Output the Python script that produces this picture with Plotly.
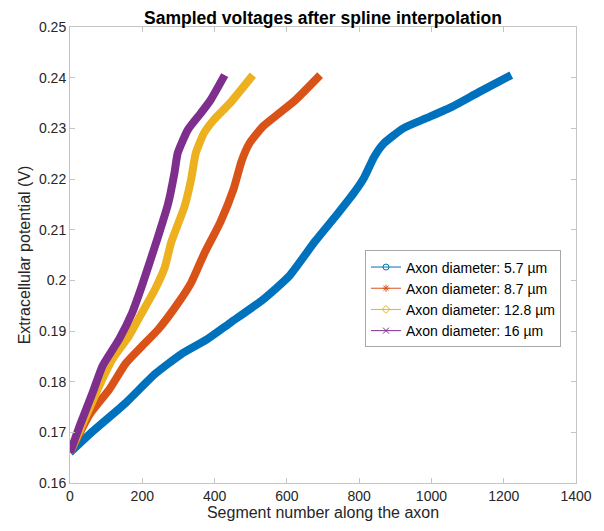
import plotly.graph_objects as go

# Sampled extracellular potential along the axon, one series per diameter
labels = ["Axon diameter: 5.7 µm", "Axon diameter: 8.7 µm",
          "Axon diameter: 12.8 µm", "Axon diameter: 16 µm"]

seg_57 = [0, 63, 154, 235, 307, 380, 443, 534, 606, 678, 741, 787, 814, 841,
          868, 922, 986, 1058, 1130, 1221]
volt_57 = [0.1660, 0.1702, 0.1758, 0.1815, 0.1854, 0.1884, 0.1916, 0.1962,
           0.2008, 0.2077, 0.2132, 0.2174, 0.2203, 0.2243, 0.2270, 0.2300,
           0.2320, 0.2343, 0.2371, 0.2405]

seg_87 = [0, 54, 109, 154, 199, 244, 298, 335, 371, 416, 452, 475, 497, 534,
          579, 624, 692]
volt_87 = [0.1660, 0.1735, 0.1785, 0.1836, 0.1870, 0.1903, 0.1954, 0.1995,
           0.2052, 0.2115, 0.2179, 0.2236, 0.2271, 0.2304, 0.2330, 0.2356,
           0.2405]

seg_128 = [0, 45, 81, 117, 163, 199, 235, 262, 280, 317, 335, 348, 371, 398,
           443, 506]
volt_128 = [0.1660, 0.1733, 0.1792, 0.1844, 0.1890, 0.1936, 0.1982, 0.2025,
            0.2075, 0.2146, 0.2199, 0.2251, 0.2291, 0.2317, 0.2350, 0.2405]

seg_16 = [0, 27, 63, 90, 136, 172, 199, 244, 271, 289, 298, 326, 362, 389, 428]
volt_16 = [0.1660, 0.1713, 0.1779, 0.1831, 0.1884, 0.1936, 0.1989, 0.2087,
           0.2150, 0.2212, 0.2251, 0.2297, 0.2330, 0.2356, 0.2405]

x_ticks = [0, 200, 400, 600, 800, 1000, 1200, 1400]
y_ticks = [0.16, 0.17, 0.18, 0.19, 0.2, 0.21, 0.22, 0.23, 0.24, 0.25]
y_tick_text = ["0.16", "0.17", "0.18", "0.19", "0.2", "0.21", "0.22",
               "0.23", "0.24", "0.25"]

colors = ["#0072BD", "#D95319", "#EDB120", "#7E2F8E"]
symbols = ["circle-open", "asterisk-open", "diamond-open", "x-thin-open"]
series = [(seg_57, volt_57), (seg_87, volt_87), (seg_128, volt_128),
          (seg_16, volt_16)]

FONT = "Liberation Sans, Helvetica, Arial, sans-serif"
AXIS_C = "#c4c4c4"
TEXT_C = "#262626"

fig = go.Figure()

# densely sampled markers read as a thick stroke
for (xs, ys), c in zip(series, colors):
    fig.add_trace(go.Scatter(
        x=xs, y=ys, mode="lines",
        line=dict(color=c, width=8, shape="spline", smoothing=0.5),
        showlegend=False, hoverinfo="skip"))

# legend entries: thin line with the marker glyph
for name, c, s in zip(labels, colors, symbols):
    fig.add_trace(go.Scatter(
        x=[None], y=[None], mode="lines+markers", name=name,
        line=dict(color=c, width=1),
        marker=dict(symbol=s, size=6, color=c, line=dict(color=c, width=1))))

axis_common = dict(
    showgrid=False, zeroline=False, showline=True, linecolor=AXIS_C,
    linewidth=1, mirror="ticks", ticks="inside", ticklen=5,
    tickcolor=AXIS_C, tickfont=dict(family=FONT, size=14, color=TEXT_C))

fig.update_layout(
    width=604, height=531,
    margin=dict(l=70, r=18, t=27, b=47),
    paper_bgcolor="white", plot_bgcolor="white",
    title=dict(text="<b>Sampled voltages after spline interpolation</b>",
               x=0.5, xref="paper", xanchor="center",
               y=1, yref="paper", yanchor="bottom", pad=dict(b=3),
               font=dict(family=FONT, size=17.5, color="black")),
    xaxis=dict(range=[0, 1400], tickvals=x_ticks,
               title=dict(text="Segment number along the axon", standoff=4,
                          font=dict(family=FONT, size=16, color=TEXT_C)),
               **axis_common),
    yaxis=dict(range=[0.16, 0.25], tickvals=y_ticks, ticktext=y_tick_text,
               title=dict(text="Extracellular potential (V)", standoff=4,
                          font=dict(family=FONT, size=16, color=TEXT_C)),
               **axis_common),
    legend=dict(x=0.583, y=0.51, xanchor="left", yanchor="top",
                bgcolor="white", bordercolor="#a8a8a8", borderwidth=1,
                itemwidth=30, tracegroupgap=0,
                font=dict(family=FONT, size=14, color="black")),
)

fig.write_html("out.html")
